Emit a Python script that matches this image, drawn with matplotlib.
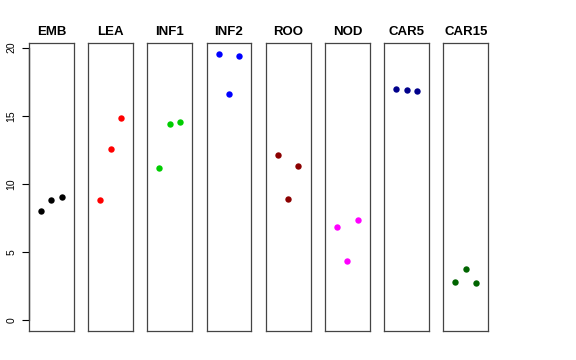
import numpy as np
import matplotlib.pyplot as plt

plt.rcParams['font.family'] = ['Liberation Sans', 'DejaVu Sans']

# panel names, colours and the three values shown in each panel
groups = ['EMB', 'LEA', 'INF1', 'INF2', 'ROO', 'NOD', 'CAR5', 'CAR15']
colors = ['#000000', '#FF0000', '#00CD00', '#0000FF', '#8B0000', '#FF00FF', '#00008B', '#006400']
x_pos = [1, 2, 3]
emb = [8.02, 8.83, 9.05]
lea = [8.85, 12.54, 14.81]
inf1 = [11.17, 14.40, 14.54]
inf2 = [19.55, 16.62, 19.38]
roo = [12.15, 8.90, 11.30]
nod = [6.87, 4.38, 7.34]
car5 = [16.96, 16.86, 16.79]
car15 = [2.82, 3.77, 2.75]
values = [emb, lea, inf1, inf2, roo, nod, car5, car15]
yticks = [0, 5, 10, 15, 20]

W, H = 576, 360
fig = plt.figure(figsize=(W / 100, H / 100), dpi=100)

ymax = max(max(v) for v in values)
ylim = (-0.04 * ymax, ymax * 1.04)
xlim = (-0.16, 4.16)

left0, step, width = 29, 59.2, 44.7
top, bottom = 43, 331

for i, (name, col, vals) in enumerate(zip(groups, colors, values)):
    ax = fig.add_axes([(left0 + step * i) / W, 1 - bottom / H,
                       width / W, (bottom - top) / H])
    ax.plot(x_pos, vals, 'o', color=col, ms=4.6, mew=0)
    ax.set_xlim(xlim)
    ax.set_ylim(ylim)
    ax.set_xticks([])
    ax.set_yticks([])
    for sp in ax.spines.values():
        sp.set_color('#444444')
        sp.set_linewidth(0.9)
    ax.set_title(name, fontsize=9.5, fontweight='bold', pad=6)
    if i == 0:
        # R-style y axis drawn only over the tick range
        sec = ax.secondary_yaxis(0)
        sec.set_yticks(yticks)
        sec.spines['left'].set_bounds(yticks[0], yticks[-1])
        sec.spines['left'].set_linewidth(0.9)
        sec.spines['left'].set_color('black')
        sec.tick_params(axis='y', length=5, width=0.8, labelsize=7.5, pad=4)
        for lab in sec.get_yticklabels():
            lab.set_rotation(90)
            lab.set_va('center')

fig.savefig('out.png', dpi=100)
